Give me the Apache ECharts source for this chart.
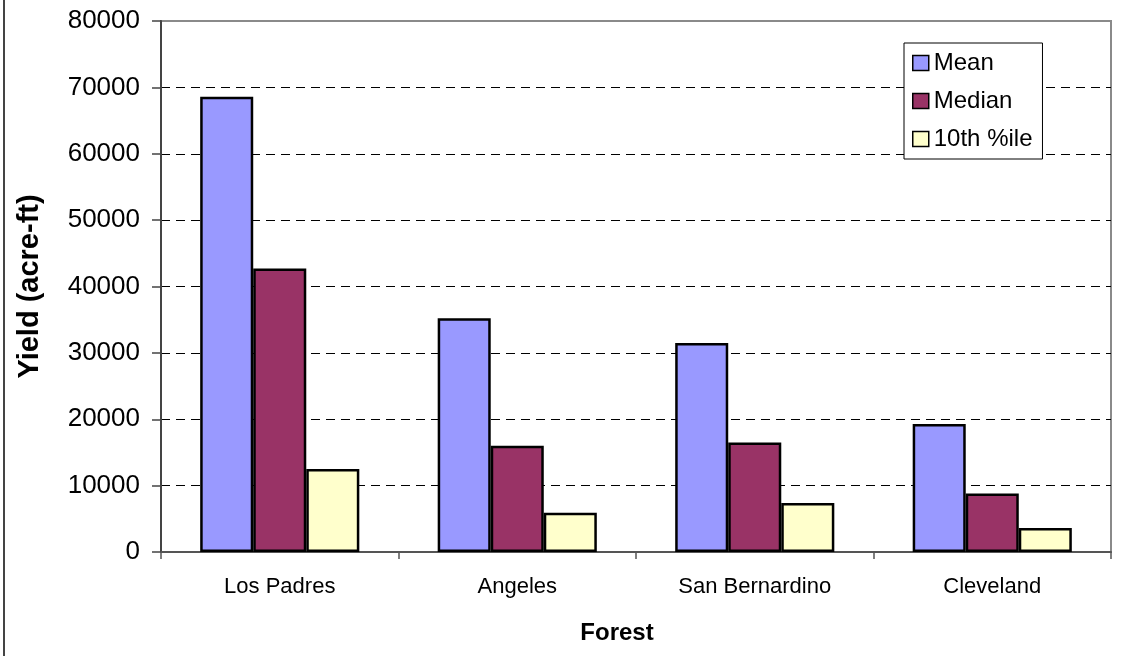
<!DOCTYPE html>
<html>
<head>
<meta charset="utf-8">
<style>
  html, body { margin: 0; padding: 0; background: #fff; }
  #chart { width: 1123px; height: 656px; }
</style>
<script src="https://cdn.jsdelivr.net/npm/echarts@6/dist/echarts.min.js"></script>
</head>
<body>
<div id="chart"></div>
<script>
// Water yield per national forest (acre-feet)
const forests = ['Los Padres', 'Angeles', 'San Bernardino', 'Cleveland'];
const meanYield = [68600, 35200, 31500, 19300];
const medianYield = [42700, 16000, 16500, 8800];
const p10Yield = [12500, 5900, 7400, 3600];
const seriesNames = ['Mean', 'Median', '10th %ile'];
const yTicks = { min: 0, max: 80000, interval: 10000 };

const FONT = '"Liberation Sans", Arial, sans-serif';
const colors = ['#9999FF', '#993366', '#FFFFCC'];

const chart = echarts.init(document.getElementById('chart'), null, { renderer: 'canvas' });

function barSeries(name, data, color) {
  return {
    name: name,
    type: 'bar',
    data: data,
    barGap: '0%',
    barCategoryGap: '33%',
    itemStyle: { color: color, borderColor: '#000', borderWidth: 2.5 },
    emphasis: { disabled: true }
  };
}

chart.setOption({
  animation: false,
  backgroundColor: '#fff',
  textStyle: { fontFamily: FONT },
  grid: {
    left: 161, top: 21, right: 12, bottom: 104,
    show: true, borderColor: '#8a8a8a', borderWidth: 2, backgroundColor: '#fff'
  },
  legend: {
    data: seriesNames,
    orient: 'vertical',
    left: 904, top: 43,
    padding: [8, 10, 8, 8],
    itemGap: 14,
    itemWidth: 16, itemHeight: 15,
    icon: 'rect',
    backgroundColor: '#fff',
    borderColor: '#000', borderWidth: 1,
    itemStyle: { borderColor: '#000', borderWidth: 1.5 },
    textStyle: { fontFamily: FONT, fontSize: 24, color: '#000', lineHeight: 23 },
    selectedMode: false
  },
  xAxis: {
    type: 'category',
    data: forests,
    name: 'Forest',
    nameLocation: 'middle',
    nameGap: 69,
    nameTextStyle: {
      fontFamily: FONT, fontSize: 24, fontWeight: 'bold', color: '#000',
      padding: [0, 38, 0, 0]
    },
    axisLine: { lineStyle: { color: '#555', width: 2 } },
    axisTick: { show: true, length: 7, lineStyle: { color: '#555', width: 1.5 } },
    axisLabel: { fontFamily: FONT, fontSize: 22, color: '#000', margin: 24 }
  },
  yAxis: {
    type: 'value',
    min: yTicks.min, max: yTicks.max, interval: yTicks.interval,
    name: 'Yield (acre-ft)',
    nameLocation: 'middle',
    nameGap: 117,
    nameTextStyle: { fontFamily: FONT, fontSize: 29, fontWeight: 'bold', color: '#000' },
    axisLine: { show: true, lineStyle: { color: '#444', width: 2 } },
    axisTick: { show: true, length: 9, lineStyle: { color: '#444', width: 1.5 } },
    axisLabel: {
      fontFamily: FONT, fontSize: 26, color: '#000', margin: 21,
      formatter: function (v) { return String(v); }
    },
    splitLine: {
      show: true, showMaxLine: false,
      lineStyle: { color: '#000', width: 1, type: [9, 6] }
    }
  },
  graphic: [{
    type: 'line',
    shape: { x1: 4, y1: 0, x2: 4, y2: 656 },
    style: { stroke: '#444', lineWidth: 2 },
    silent: true
  }],
  series: [
    barSeries(seriesNames[0], meanYield, colors[0]),
    barSeries(seriesNames[1], medianYield, colors[1]),
    barSeries(seriesNames[2], p10Yield, colors[2])
  ]
});
</script>
</body>
</html>
